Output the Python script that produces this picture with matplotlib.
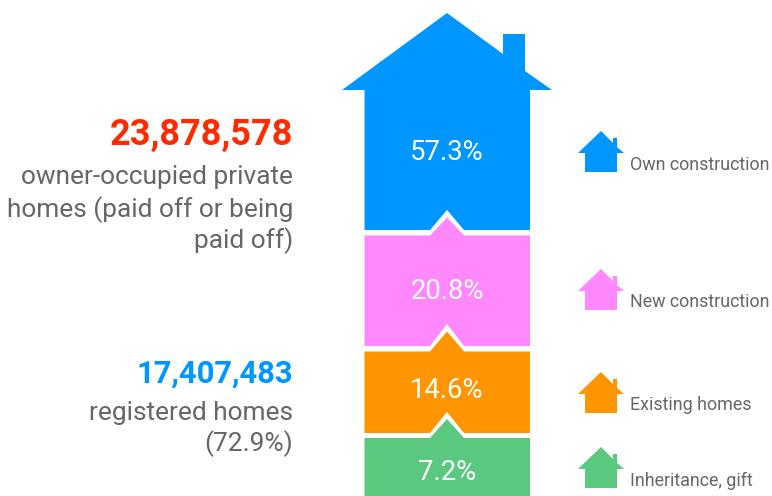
import matplotlib
matplotlib.use('Agg')
import matplotlib.pyplot as plt
from matplotlib.patches import Polygon

plt.rcParams['font.family'] = ['Roboto', 'DejaVu Sans']

# shares, top to bottom
labels = ['Own construction', 'New construction', 'Existing homes', 'Inheritance, gift']
shares = [57.3, 20.8, 14.6, 7.2]
colors = ['#0096ff', '#ff88ff', '#ff9500', '#5ac87f']

# the bands are not to scale in the original, so their edges are read off it
band_tops = [90, 235.5, 351.5, 438]
band_bottoms = [230, 346, 433, 496]
notch_heights = [20, 22, 21, 0]
share_baselines = [160, 299, 398, 480]

icon_tops = [131, 269, 372, 447]
legend_baselines = [170, 307, 410, 486]

total_homes = '23,878,578'
total_text = ['owner-occupied private', 'homes (paid off or being', 'paid off)']
registered_homes = '17,407,483'
registered_text = ['registered homes', '(72.9%)']

GREY = '#666666'
LEFT, RIGHT, MID = 364.5, 530, 447
BUMP = 17


def band_points(i):
    top = band_tops[i]
    bottom = band_bottoms[i]
    pts = [(LEFT, bottom)]
    if notch_heights[i]:
        pts += [(MID - BUMP, bottom), (MID, bottom - notch_heights[i]), (MID + BUMP, bottom)]
    pts.append((RIGHT, bottom))
    if i == 0:
        # walls, eaves, chimney and roof of the big house
        pts += [(RIGHT, top), (552, top), (525, 71), (525, 34), (503, 34), (503, 54),
                (MID, 13), (342, top), (LEFT, top)]
    else:
        rise = notch_heights[i - 1] - 2
        pts += [(RIGHT, top), (MID + BUMP, top), (MID, top - rise), (MID - BUMP, top), (LEFT, top)]
    return pts


def icon_points(top):
    return [(585, top + 41), (617, top + 41), (617, top + 22), (624, top + 22), (617, top + 16),
            (617, top + 7), (613, top + 7), (613, top + 12), (601, top), (578, top + 22),
            (585, top + 22)]


fig = plt.figure(figsize=(7.72, 4.96), dpi=100)
ax = fig.add_axes([0, 0, 1, 1])
ax.set_xlim(0, 772)
ax.set_ylim(496, 0)
ax.axis('off')

for i, share in enumerate(shares):
    ax.add_patch(Polygon(band_points(i), closed=True, fc=colors[i], ec='none'))
    ax.text(MID, share_baselines[i], f'{share}%', color='white', fontsize=19.8,
            ha='center', va='baseline')
    ax.add_patch(Polygon(icon_points(icon_tops[i]), closed=True, fc=colors[i], ec='none'))
    ax.text(630, legend_baselines[i], labels[i], color=GREY, fontsize=12.9,
            ha='left', va='baseline')

ax.text(293.5, 145, total_homes, color='#ff2a00', fontsize=26, fontweight='bold',
        ha='right', va='baseline')
for y, line in zip([184, 217, 248], total_text):
    ax.text(293, y, line, color=GREY, fontsize=18.9, ha='right', va='baseline')

ax.text(293.5, 383, registered_homes, color='#0096ff', fontsize=22.2, fontweight='bold',
        ha='right', va='baseline')
for y, line in zip([420, 451], registered_text):
    ax.text(293, y, line, color=GREY, fontsize=18.9, ha='right', va='baseline')

fig.savefig('out.png', dpi=100)
